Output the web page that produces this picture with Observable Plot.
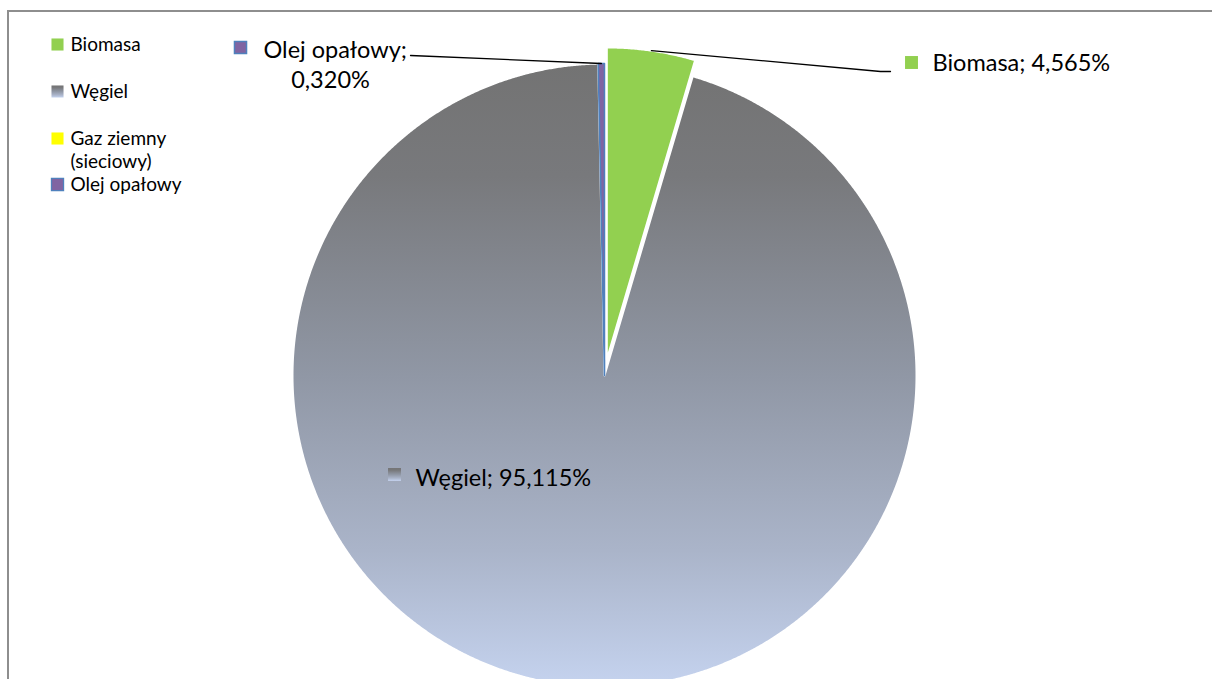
<!DOCTYPE html>
<html><head><meta charset="utf-8">
<script src="https://cdn.jsdelivr.net/npm/d3@7"></script>
<script src="https://cdn.jsdelivr.net/npm/@observablehq/plot@0.6"></script>
<style>
html,body{margin:0;padding:0;background:#fff;overflow:hidden}
#wrap{position:relative;width:1212px;height:679px;overflow:hidden}
#frame{position:absolute;left:7px;top:10px;width:1300px;height:800px;border:2px solid #8e8e8e;box-sizing:border-box}
#chart{position:absolute;left:0;top:0}
</style></head><body><div id="wrap"><div id="frame"></div><div id="chart"></div></div>
<script>
// ---- data ----
const categories = ["Biomasa", "Węgiel", "Gaz ziemny (sieciowy)", "Olej opałowy"];
const shares = [4.565, 95.115, 0, 0.320];
const legendLines = [["Biomasa"], ["Węgiel"], ["Gaz ziemny", "(sieciowy)"], ["Olej opałowy"]];

// ---- styles ----
const palette = {"Biomasa": "#92D050", "Węgiel": "url(#wegielGrad)", "Gaz ziemny (sieciowy)": "#FFFF00", "Olej opałowy": "#8064A2"};
const strokes = {"Biomasa": "#ffffff", "Węgiel": "#ffffff", "Gaz ziemny (sieciowy)": "#ffffff", "Olej opałowy": "#4F81BD"};
const explode = {"Biomasa": 0.052};
const W = 1212, H = 679, R = 312, CX = 604, CY = 375;
const font = "Lato, Carlito, 'Open Sans', sans-serif";
const LBL = 23.5, LEG = 19;
const fmt = v => v.toFixed(3).replace(".", ",") + "%";

// ---- geometry (angles clockwise from 12 o'clock) ----
const total = d3.sum(shares);
let acc = 0;
const slices = categories.map((c, i) => {
  const a0 = acc / total * 2 * Math.PI; acc += shares[i];
  const a1 = acc / total * 2 * Math.PI;
  const mid = (a0 + a1) / 2, off = explode[c] || 0;
  return {c, v: shares[i], a0, a1, mid, cx: off * Math.sin(mid), cy: off * Math.cos(mid)};
});
function slicePts(s) {
  const pts = [{x: s.cx, y: s.cy}];
  const n = Math.max(2, Math.ceil((s.a1 - s.a0) / (Math.PI / 720)));
  for (let k = 0; k <= n; k++) {
    const a = s.a0 + (s.a1 - s.a0) * k / n;
    pts.push({x: s.cx + Math.sin(a), y: s.cy + Math.cos(a)});
  }
  pts.push({x: s.cx, y: s.cy});
  return pts;
}
const S = Object.fromEntries(slices.map(s => [s.c, s]));
const edge = s => ({x: s.cx + Math.sin(s.mid), y: s.cy + Math.cos(s.mid)});
const at = (px, py) => ({x: (px - CX) / R, y: (CY - py) / R});

const order = ["Węgiel", "Olej opałowy", "Biomasa"];
const sliceMarks = order.map(c => S[c]).filter(s => s.v > 0).map(s =>
  Plot.line(slicePts(s), {x: "x", y: "y", fill: palette[s.c], stroke: strokes[s.c],
    strokeWidth: s.c === "Olej opałowy" ? 1.6 : 2, strokeLinejoin: "round", curve: "linear"}));

// data labels
const bioLbl = at(932, 63), wegLbl = at(415, 478), olejLbl = at(263, 50), olejLbl2 = at(330, 80);
const leaders = [
  [edge(S["Olej opałowy"]), at(410, 55)].map(p => ({...p, k: "o"})),
  [edge(S["Biomasa"]), at(880, 71), at(890, 71)].map(p => ({...p, k: "b"}))
].flat();

const labelMarks = [
  Plot.line(leaders, {x: "x", y: "y", z: "k", stroke: "#000", strokeWidth: 1.3}),
  Plot.dot([0], {x: at(911, 62).x, y: at(911, 62).y, symbol: "square", r: 7.3, fill: palette["Biomasa"]}),
  Plot.text([fmt(shares[0])], {x: bioLbl.x, y: bioLbl.y, text: d => categories[0] + "; " + d, textAnchor: "start", fontSize: LBL, fill: "#000"}),
  Plot.dot([0], {x: at(394, 474).x, y: at(394, 474).y, symbol: "square", r: 7.3, fill: palette["Węgiel"]}),
  Plot.text([fmt(shares[1])], {x: wegLbl.x, y: wegLbl.y, text: d => categories[1] + "; " + d, textAnchor: "start", fontSize: LBL, fill: "#000"}),
  Plot.dot([0], {x: at(240, 47).x, y: at(240, 47).y, symbol: "square", r: 6.8, fill: palette["Olej opałowy"], stroke: "#4F81BD", strokeWidth: 1.5}),
  Plot.text([categories[3] + ";"], {x: olejLbl.x, y: olejLbl.y, text: d => d, textAnchor: "start", fontSize: LBL, fill: "#000"}),
  Plot.text([fmt(shares[3])], {x: olejLbl2.x, y: olejLbl2.y, text: d => d, textAnchor: "middle", fontSize: LBL, fill: "#000"})
];

// legend (top-left)
const legendRows = [44, 91, 138, 184];
const legendMarks = categories.flatMap((c, i) => {
  const y = legendRows[i];
  const m = [Plot.dot([0], {frameAnchor: "top-left", dx: 57, dy: y, symbol: "square", r: 6.8,
    fill: palette[c], stroke: c === "Olej opałowy" ? "#4F81BD" : "none", strokeWidth: 1.3})];
  legendLines[i].forEach((t, j) => m.push(Plot.text([t], {frameAnchor: "top-left", lineAnchor: "middle",
    dx: 70, dy: y + j * 23, text: d => d, textAnchor: "start", fontSize: LEG, fill: "#000"})));
  return m;
});

const plot = Plot.plot({
  width: W, height: H, margin: 0,
  x: {domain: [-1, 1], range: [CX - R, CX + R], axis: null},
  y: {domain: [-1, 1], range: [CY + R, CY - R], axis: null},
  style: {background: "transparent", fontFamily: font, overflow: "hidden"},
  marks: [...sliceMarks, ...labelMarks, ...legendMarks]
});

const defs = d3.select(plot).insert("defs", ":first-child");
const grad = defs.append("linearGradient").attr("id", "wegielGrad")
  .attr("x1", 0).attr("y1", 0).attr("x2", 0).attr("y2", 1);
[[0, "#737373"], [0.18, "#78797c"], [0.5, "#9097a5"], [0.78, "#aab4c9"], [1, "#c5d3ef"]]
  .forEach(([o, c]) => grad.append("stop").attr("offset", o).attr("stop-color", c));

document.getElementById("chart").appendChild(plot);
</script></body></html>
